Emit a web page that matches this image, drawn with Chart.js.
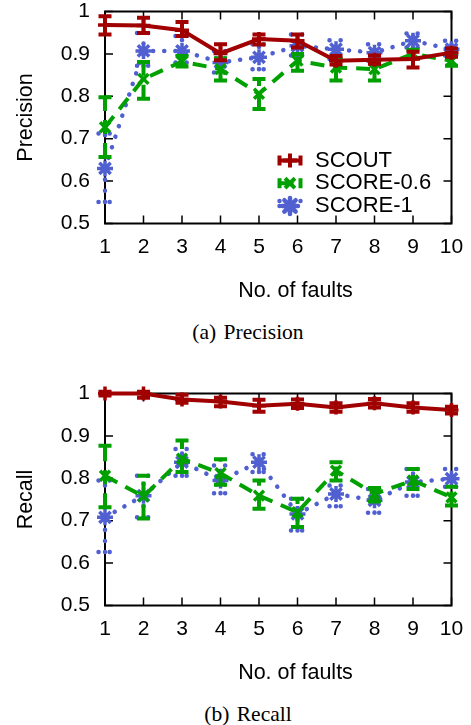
<!DOCTYPE html>
<html>
<head>
<meta charset="utf-8">
<script src="https://cdn.jsdelivr.net/npm/chart.js@4.4.1/dist/chart.umd.min.js"></script>
<style>
    html, body { margin: 0; padding: 0; background: #fff; }
    body { width: 471px; height: 725px; position: relative; overflow: hidden; }
    .grafico { position: absolute; left: 0; }
    .legenda {
        position: absolute; left: 0; width: 496px; text-align: center;
        font-family: "Liberation Serif", "Times New Roman", serif;
        font-size: 21.5px; line-height: 22px; word-spacing: 2px; color: #000;
    }
</style>
</head>
<body>
<canvas id="graficoPrecision" class="grafico" width="471" height="310" style="top:0px"></canvas>
<div class="legenda" style="top:321px">(a) Precision</div>
<canvas id="graficoRecall" class="grafico" width="471" height="310" style="top:382px"></canvas>
<div class="legenda" style="top:703px">(b) Recall</div>

<script>
// valores
const faults = [1, 2, 3, 4, 5, 6, 7, 8, 9, 10];
const yTicks = [0.5, 0.6, 0.7, 0.8, 0.9, 1];

const precScout   = [0.968, 0.967, 0.956, 0.901, 0.935, 0.931, 0.884, 0.886, 0.888, 0.903];
const precScoutLo = [0.946, 0.949, 0.942, 0.885, 0.922, 0.915, 0.875, 0.877, 0.868, 0.893];
const precScoutHi = [0.989, 0.985, 0.975, 0.923, 0.946, 0.946, 0.895, 0.896, 0.905, 0.913];

const precScore06   = [0.727, 0.841, 0.882, 0.864, 0.806, 0.884, 0.868, 0.864, 0.900, 0.884];
const precScore06Lo = [0.657, 0.794, 0.870, 0.837, 0.770, 0.860, 0.837, 0.837, 0.890, 0.872];
const precScore06Hi = [0.798, 0.881, 0.895, 0.890, 0.841, 0.900, 0.890, 0.885, 0.910, 0.895];

const precScore1   = [0.630, 0.907, 0.907, 0.880, 0.892, 0.919, 0.911, 0.903, 0.931, 0.911];
const precScore1Lo = [0.551, 0.872, 0.880, 0.856, 0.864, 0.896, 0.888, 0.884, 0.915, 0.896];
const precScore1Hi = [0.712, 0.949, 0.942, 0.907, 0.923, 0.946, 0.932, 0.923, 0.948, 0.931];

const recScout   = [1.000, 1.000, 0.986, 0.981, 0.971, 0.976, 0.967, 0.977, 0.967, 0.961];
const recScoutLo = [0.995, 0.990, 0.978, 0.970, 0.957, 0.966, 0.957, 0.967, 0.957, 0.953];
const recScoutHi = [1.004, 1.004, 0.997, 0.990, 0.985, 0.986, 0.977, 0.987, 0.977, 0.969];

const recScore06   = [0.806, 0.757, 0.846, 0.812, 0.759, 0.720, 0.818, 0.763, 0.795, 0.755];
const recScore06Lo = [0.732, 0.705, 0.815, 0.785, 0.728, 0.685, 0.795, 0.745, 0.775, 0.736];
const recScore06Hi = [0.877, 0.806, 0.889, 0.845, 0.795, 0.752, 0.838, 0.777, 0.822, 0.780];

const recScore1   = [0.708, 0.759, 0.838, 0.795, 0.838, 0.716, 0.763, 0.748, 0.791, 0.799];
const recScore1Lo = [0.626, 0.708, 0.806, 0.765, 0.815, 0.677, 0.734, 0.719, 0.759, 0.780];
const recScore1Hi = [0.795, 0.806, 0.869, 0.830, 0.857, 0.752, 0.783, 0.775, 0.822, 0.822];

const fonte = "'Liberation Sans', Arial, sans-serif";
const tituloX = 'No. of faults';

const estilos = {
    'SCOUT':     { cor: '#a00000', largura: 4,   tracejado: [],         ponta: 'butt',  ponto: 'cross',    raio: 7 },
    'SCORE-0.6': { cor: '#00a000', largura: 4,   tracejado: [14, 9],    ponta: 'butt',  ponto: 'crossRot', raio: 7 },
    'SCORE-1':   { cor: '#5060d0', largura: 4.5, tracejado: [0.1, 11],  ponta: 'round', ponto: 'star',     raio: 8 }
};

// barras de erro desenhadas antes de cada série
const barrasErro = {
    id: 'barrasErro',
    beforeDatasetDraw(chart, args) {
        const ds = chart.data.datasets[args.index];
        const { ctx, scales: { x, y } } = chart;
        ctx.save();
        ctx.strokeStyle = ds.borderColor;
        ctx.lineWidth = ds.borderWidth;
        ctx.setLineDash(ds.borderDash);
        ctx.lineCap = ds.borderCapStyle;
        ds.data.forEach((p, i) => {
            const px = x.getPixelForValue(p.x);
            const lo = y.getPixelForValue(ds.erroLo[i]);
            const hi = y.getPixelForValue(ds.erroHi[i]);
            ctx.beginPath();
            ctx.moveTo(px, lo); ctx.lineTo(px, hi);
            ctx.moveTo(px - 6.5, lo); ctx.lineTo(px + 6.5, lo);
            ctx.moveTo(px - 6.5, hi); ctx.lineTo(px + 6.5, hi);
            ctx.stroke();
        });
        ctx.restore();
    }
};

// moldura com marcas para dentro nos quatro lados + título do eixo x
const moldura = {
    id: 'moldura',
    beforeDatasetsDraw(chart) {
        const { ctx, chartArea: a, scales: { x, y } } = chart;
        ctx.save();
        ctx.strokeStyle = '#000';
        ctx.lineWidth = 1.5;
        ctx.beginPath();
        x.ticks.forEach(t => {
            const px = x.getPixelForValue(t.value);
            ctx.moveTo(px, a.bottom); ctx.lineTo(px, a.bottom - 8);
            ctx.moveTo(px, a.top);    ctx.lineTo(px, a.top + 8);
        });
        y.ticks.forEach(t => {
            const py = y.getPixelForValue(t.value);
            ctx.moveTo(a.left, py);  ctx.lineTo(a.left + 8, py);
            ctx.moveTo(a.right, py); ctx.lineTo(a.right - 8, py);
        });
        ctx.stroke();
        ctx.lineWidth = 2;
        ctx.strokeRect(a.left, a.top, a.right - a.left, a.bottom - a.top);

        ctx.fillStyle = '#000';
        ctx.font = `21.5px ${fonte}`;
        ctx.textAlign = 'center';
        ctx.textBaseline = 'middle';
        ctx.fillText(tituloX, 295.5, a.bottom + 67.5);
        ctx.restore();
    }
};

// legenda dentro da área do gráfico, canto inferior direito
const legendaInterna = {
    id: 'legendaInterna',
    afterDraw(chart, args, opts) {
        if (!opts.display) return;
        const { ctx, chartArea: a } = chart;
        ctx.save();
        chart.data.datasets.forEach((ds, i) => {
            const yy = a.bottom - 63 + i * 22.7;
            const x0 = a.right - 172, x1 = a.right - 151;
            ctx.strokeStyle = ds.borderColor;
            ctx.lineWidth = ds.borderWidth;
            ctx.setLineDash(ds.borderDash);
            ctx.lineCap = ds.borderCapStyle;
            ctx.beginPath();
            ctx.moveTo(x0, yy); ctx.lineTo(x1, yy);
            ctx.moveTo(x0, yy - 5); ctx.lineTo(x0, yy + 5);
            ctx.moveTo(x1, yy - 5); ctx.lineTo(x1, yy + 5);
            ctx.stroke();
            ctx.setLineDash([]);
            ctx.fillStyle = ds.borderColor;
            Chart.helpers.drawPoint(ctx, {
                pointStyle: ds.pointStyle, radius: ds.pointRadius,
                borderWidth: ds.pointBorderWidth, rotation: 0
            }, (x0 + x1) / 2, yy);
            ctx.fillStyle = '#000';
            ctx.font = `22px ${fonte}`;
            ctx.textAlign = 'left';
            ctx.textBaseline = 'middle';
            ctx.fillText(ds.label, a.right - 136.5, yy);
        });
        ctx.restore();
    }
};

function montarSerie(label, valores, lo, hi) {
    const e = estilos[label];
    return {
        label,
        data: faults.map((f, i) => ({ x: f, y: valores[i] })),
        erroLo: lo,
        erroHi: hi,
        borderColor: e.cor,
        backgroundColor: e.cor,
        borderWidth: e.largura,
        borderDash: e.tracejado,
        borderCapStyle: e.ponta,
        pointStyle: e.ponto,
        pointRadius: e.raio,
        pointHoverRadius: e.raio,
        pointBorderWidth: 3.5,
        pointBorderColor: e.cor,
        pointBackgroundColor: e.cor,
        tension: 0,
        fill: false,
        clip: false
    };
}

function criarGrafico(id, tituloY, series, comLegenda) {
    const canvas = document.getElementById(id);
    new Chart(canvas, {
        type: 'line',
        data: { datasets: series },
        plugins: [moldura, barrasErro, legendaInterna],
        options: {
            responsive: false,
            animation: false,
            events: [],
            layout: { padding: { top: 10.5, right: 19.5, left: 0, bottom: 0 } },
            plugins: {
                legend: { display: false },
                tooltip: { enabled: false },
                legendaInterna: { display: comLegenda }
            },
            scales: {
                x: {
                    type: 'linear', min: 1, max: 10,
                    afterBuildTicks: s => { s.ticks = faults.map(v => ({ value: v })); },
                    afterFit: s => { s.height = 86.5; s.paddingLeft = 0; s.paddingRight = 0; },
                    ticks: {
                        font: { family: fonte, size: 21 }, color: '#000',
                        padding: 11.4, maxRotation: 0, autoSkip: false,
                        callback: v => String(v)
                    },
                    grid: { display: false, drawTicks: false },
                    border: { display: false }
                },
                y: {
                    type: 'linear', min: 0.5, max: 1,
                    afterBuildTicks: s => { s.ticks = yTicks.map(v => ({ value: v })); },
                    afterFit: s => { s.width = 105; s.paddingTop = 0; s.paddingBottom = 0; },
                    ticks: {
                        font: { family: fonte, size: 21, lineHeight: 1 }, color: '#000',
                        padding: 15, callback: v => String(v)
                    },
                    grid: { display: false, drawTicks: false },
                    border: { display: false },
                    title: {
                        display: true, text: tituloY, color: '#000',
                        font: { family: fonte, size: 21.5 },
                        padding: { top: 13, bottom: 0 }
                    }
                }
            }
        }
    });
}

criarGrafico('graficoPrecision', 'Precision', [
    montarSerie('SCOUT', precScout, precScoutLo, precScoutHi),
    montarSerie('SCORE-0.6', precScore06, precScore06Lo, precScore06Hi),
    montarSerie('SCORE-1', precScore1, precScore1Lo, precScore1Hi)
], true);

criarGrafico('graficoRecall', 'Recall', [
    montarSerie('SCOUT', recScout, recScoutLo, recScoutHi),
    montarSerie('SCORE-0.6', recScore06, recScore06Lo, recScore06Hi),
    montarSerie('SCORE-1', recScore1, recScore1Lo, recScore1Hi)
], false);
</script>
</body>
</html>
